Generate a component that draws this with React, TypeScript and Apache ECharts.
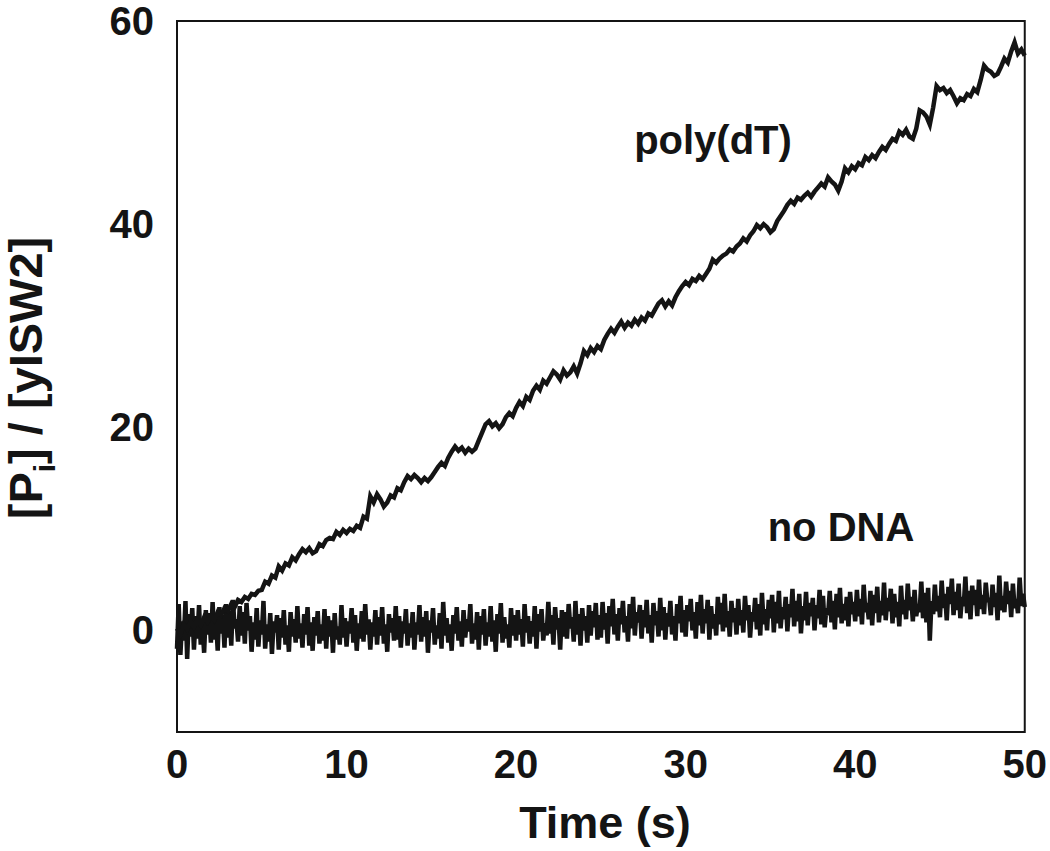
import React, { useEffect, useRef } from "react";
import * as echarts from "echarts";

// sampling steps of the two traces (s)
const polyStep = 0.2;
const noDnaStep = 0.1;

const xTicks = [0, 10, 20, 30, 40, 50];
const yTickLabels = [0, 20, 40, 60];

// [Pi]/[yISW2] with poly(dT), one value every 0.2 s
const polyDT = [
  0.2, -0.4, 0.6, 0.1, 0.9, 0.3, 1.0, 0.5, 1.3, 0.8,
  1.4, 1.0, 1.8, 1.5, 2.2, 1.9, 2.6, 2.3, 3.0, 2.8,
  3.3, 3.1, 3.6, 3.5, 3.9, 4.0, 4.8, 4.6, 5.4, 5.2,
  6.3, 5.9, 6.6, 6.4, 7.2, 6.9, 7.5, 8.0, 7.7, 8.1,
  7.6, 7.8, 8.5, 8.3, 8.9, 9.1, 9.0, 9.7, 9.4, 9.9,
  9.6, 10.0, 9.8, 10.3, 10.1, 11.2, 11.0, 13.2, 12.6, 13.4,
  12.9, 12.2, 12.6, 13.3, 13.1, 14.0, 13.8, 14.6, 15.2, 14.9,
  15.3, 15.0, 14.6, 15.0, 14.7, 15.1, 15.6, 16.1, 16.5, 16.2,
  17.0, 17.6, 18.1, 17.7, 18.0, 17.5, 17.9, 17.6, 17.9, 18.7,
  19.5, 20.3, 20.6, 20.1, 20.4, 19.9, 20.3, 21.0, 21.4, 21.1,
  21.9, 22.5, 22.1, 23.0, 22.7, 23.6, 24.1, 23.7, 24.6, 24.3,
  24.9, 25.5, 25.2, 24.7, 25.6, 25.1, 25.4, 26.0, 25.3, 26.3,
  27.5, 27.1, 27.8, 27.4, 28.0, 27.7, 28.6, 29.2, 29.7, 29.3,
  29.9, 30.4, 29.8, 30.3, 30.0, 30.6, 30.2, 30.8, 30.5, 31.2,
  31.0, 31.6, 32.2, 32.5, 31.9, 32.4, 32.0, 32.8, 33.4, 33.9,
  34.3, 34.0, 34.6, 34.4, 34.9, 34.6, 35.1, 35.6, 36.5, 36.2,
  36.6, 36.9, 37.1, 37.5, 37.3, 37.8, 38.1, 38.6, 38.3, 38.9,
  39.3, 39.9, 39.6, 40.0, 39.7, 39.2, 39.5, 40.3, 40.8, 41.3,
  41.9, 42.3, 42.0, 42.6, 42.4, 42.8, 43.1, 42.7, 43.2, 43.6,
  44.0, 43.7, 44.6, 44.2, 43.9, 43.3, 44.2, 45.5, 45.1, 45.7,
  45.4, 46.0, 45.8, 46.6, 46.3, 46.8, 46.5, 47.1, 47.6, 47.3,
  47.9, 48.4, 48.2, 49.1, 48.8, 49.3, 48.6, 48.4, 49.4, 51.2,
  51.0, 50.6, 49.8, 51.5, 53.6, 53.2, 53.4, 52.9, 53.2, 52.6,
  51.9, 52.4, 52.2, 52.8, 52.6, 53.3, 53.0, 54.2, 55.6, 55.2,
  55.0, 54.6, 54.8, 55.5, 56.3, 55.9, 57.0, 57.9, 56.8, 57.2,
  56.6,
];

// [Pi]/[yISW2] without DNA, one value every 0.1 s
const noDNA = [
  -1.8, 2.6, -2.4, 0.9, -1.0, 2.9, -2.8, 1.6, -0.6, 2.2,
  -1.9, 1.4, -0.8, 2.5, -1.4, 0.6, -2.2, 2.0, -0.4, 1.7,
  -1.2, 2.8, -0.9, 1.2, -2.0, 2.3, -0.3, 1.5, -1.7, 2.6,
  -0.7, 1.9, -1.5, 3.0, 0.2, 1.1, -1.1, 2.4, -0.5, 1.8,
  -1.3, 2.7, 0.0, 1.4, -2.1, 0.8, -0.9, 2.2, -1.6, 1.0,
  -0.4, 2.9, -1.8, 0.6, -1.1, 1.7, -2.3, 0.9, -0.2, 1.5,
  -1.9, 1.2, -0.7, 2.0, -1.4, 0.5, -2.1, 1.8, -0.6, 1.1,
  -1.2, 2.4, -0.8, 0.7, -1.7, 1.6, -0.4, 2.3, -1.5, 0.8,
  -2.0, 1.3, -0.5, 1.9, -1.3, 0.6, -1.0, 2.1, -1.8, 1.4,
  -0.6, 1.0, -2.2, 1.7, -0.9, 0.4, -1.4, 2.5, -0.7, 1.2,
  -1.6, 0.9, -0.3, 2.2, -1.2, 1.5, -2.0, 0.7, -0.8, 1.9,
  -1.1, 2.6, -0.4, 1.1, -1.9, 0.8, -0.6, 2.0, -1.4, 1.3,
  -0.5, 2.3, -1.3, 0.6, -2.1, 1.6, -0.2, 1.2, -1.0, 2.4,
  -0.9, 1.4, -1.7, 0.9, -0.3, 2.1, -1.5, 0.7, -0.7, 1.8,
  -1.9, 0.8, -0.4, 2.5, -1.1, 1.3, -0.6, 1.9, -2.2, 1.0,
  -0.2, 2.2, -1.4, 0.5, -0.8, 1.7, -1.8, 2.8, -0.5, 1.2,
  -1.2, 0.6, -2.0, 1.5, -0.3, 2.3, -1.0, 0.9, -1.6, 2.0,
  -0.7, 1.1, -0.1, 2.6, -1.3, 0.7, -0.9, 1.8, -1.9, 1.4,
  -0.4, 2.1, -1.5, 0.8, -0.6, 2.4, -1.1, 1.0, -2.1, 1.6,
  -0.3, 2.7, -1.2, 1.3, -0.8, 0.6, -1.7, 2.2, -0.5, 1.5,
  -1.0, 2.0, -0.4, 1.1, -1.6, 2.6, -0.2, 1.4, -1.3, 0.9,
  -0.6, 2.4, -1.8, 1.6, -0.1, 2.1, -1.0, 0.7, -0.5, 2.8,
  -0.3, 1.5, -1.4, 2.3, 0.1, 1.2, -1.9, 2.0, -0.6, 1.8,
  -0.8, 2.6, 0.2, 1.3, -1.1, 2.9, -0.4, 1.6, -1.5, 2.2,
  0.0, 1.4, -1.2, 2.5, -0.5, 1.9, 0.3, 2.7, -0.9, 1.5,
  -0.7, 2.8, 0.1, 1.7, -1.3, 2.4, 0.4, 3.1, -0.4, 1.6,
  -1.0, 2.2, 0.6, 2.9, -0.2, 1.4, -1.1, 2.6, 0.2, 3.3,
  -0.5, 1.8, 0.8, 2.5, -0.8, 2.0, 0.3, 3.0, -0.3, 1.5,
  -1.2, 2.7, 0.5, 1.9, -0.6, 3.2, 0.0, 2.3, -0.9, 1.7,
  0.4, 2.9, -0.4, 1.4, -1.0, 2.6, 0.7, 3.4, -0.2, 2.0,
  -0.6, 2.5, 0.9, 3.1, 0.0, 1.8, -0.8, 2.8, 0.5, 3.5,
  -0.3, 2.1, 0.7, 3.0, -0.9, 2.4, 0.2, 1.6, -0.5, 3.3,
  0.6, 2.7, -0.1, 3.6, 0.3, 1.9, -0.6, 2.9, 0.8, 2.2,
  -0.4, 3.1, 0.5, 2.0, -0.2, 3.4, 1.0, 2.5, -0.7, 1.8,
  0.9, 3.2, 0.1, 2.6, -0.5, 3.7, 0.6, 2.1, 0.0, 3.0,
  1.2, 3.5, -0.2, 2.8, 0.7, 3.9, 0.2, 2.3, 1.1, 3.3,
  -0.1, 2.6, 1.3, 4.1, 0.4, 2.9, 0.9, 3.6, -0.3, 2.4,
  1.0, 3.8, 0.5, 2.7, 1.4, 3.2, 0.0, 2.5, 1.2, 4.0,
  0.6, 3.4, 0.3, 2.2, 1.5, 3.9, 0.8, 2.9, 0.1, 3.6,
  1.3, 4.2, 0.7, 2.6, 1.0, 3.3, 0.4, 3.8, 1.6, 2.8,
  0.9, 4.0, 1.4, 3.1, 0.6, 4.5, 1.8, 2.7, 1.1, 3.9,
  0.5, 3.5, 1.7, 4.3, 0.8, 2.9, 1.5, 4.7, 1.0, 3.2,
  1.9, 4.1, 0.7, 3.6, 1.3, 2.8, 0.4, 4.4, 1.6, 3.0,
  1.1, 4.6, 2.0, 3.3, 0.9, 4.0, 1.4, 2.6, 1.8, 4.8,
  1.2, 3.7, 0.8, 4.2, -1.0, 2.9, 1.6, 4.5, 1.9, 3.4,
  1.3, 4.9, 2.2, 3.6, 1.0, 4.3, 2.6, 5.1, 1.5, 3.8,
  2.0, 4.6, 1.2, 3.3, 2.4, 5.3, 1.7, 3.9, 1.1, 4.4,
  2.5, 4.0, 1.4, 5.0, 2.1, 3.5, 1.6, 4.7, 2.8, 3.2,
  1.5, 4.5, 2.3, 3.7, 1.0, 5.4, 2.0, 3.4, 1.8, 4.8,
  2.6, 3.9, 1.3, 4.6, 2.2, 3.1, 1.7, 5.2, 2.4, 3.6,
  2.3,
];

const seriesNames = ["poly(dT)", "no DNA"];
const yTitleMain = "[P";
const yTitleSub = "i";
const yTitleRest = "] / [yISW2]";
const xTitle = "Time (s)";

const FONT = "'Liberation Sans', Arial, Helvetica, sans-serif";
const INK = "#141414";

export default function App() {
  const ref = useRef<HTMLDivElement>(null);

  useEffect(() => {
    document.body.style.margin = "0";
    if (!ref.current) return;
    const chart = echarts.init(ref.current, null, { renderer: "svg" });

    const toPairs = (arr: number[], step: number) =>
      arr.map((v, i) => [Number((i * step).toFixed(2)), v]);

    chart.setOption({
      animation: false,
      backgroundColor: "#ffffff",
      grid: {
        left: 177,
        right: 21,
        top: 21,
        bottom: 119,
        show: true,
        borderColor: INK,
        borderWidth: 2,
        backgroundColor: "transparent",
      },
      xAxis: {
        type: "value",
        min: xTicks[0],
        max: xTicks[xTicks.length - 1],
        interval: 10,
        axisLine: { show: false },
        axisTick: { show: false },
        splitLine: { show: false },
        axisLabel: {
          color: INK,
          fontFamily: FONT,
          fontWeight: "bold",
          fontSize: 40,
          margin: 12,
        },
      },
      yAxis: {
        type: "value",
        min: -10,
        max: 60,
        interval: 10,
        axisLine: { show: false },
        axisTick: { show: false },
        splitLine: { show: false },
        axisLabel: {
          color: INK,
          fontFamily: FONT,
          fontWeight: "bold",
          fontSize: 40,
          margin: 23,
          formatter: (v: number) => (yTickLabels.includes(v) ? String(v) : ""),
        },
      },
      series: [
        {
          name: seriesNames[1],
          type: "line",
          data: toPairs(noDNA, noDnaStep),
          showSymbol: false,
          symbol: "none",
          lineStyle: { color: INK, width: 4.5, join: "miter" },
          z: 2,
        },
        {
          name: seriesNames[0],
          type: "line",
          data: toPairs(polyDT, polyStep),
          showSymbol: false,
          symbol: "none",
          lineStyle: { color: INK, width: 4.5, join: "miter" },
          z: 3,
        },
      ],
      graphic: [
        {
          type: "text",
          x: 25,
          y: 378,
          rotation: Math.PI / 2,
          style: {
            text: `{a|${yTitleMain}}{s|${yTitleSub}}{a|${yTitleRest}}`,
            align: "center",
            verticalAlign: "middle",
            fill: INK,
            rich: {
              a: {
                fontFamily: FONT,
                fontWeight: "bold",
                fontSize: 47,
                lineHeight: 46,
                verticalAlign: "top",
                fill: INK,
              },
              s: {
                fontFamily: FONT,
                fontWeight: "bold",
                fontSize: 30,
                lineHeight: 30,
                padding: [27, 0, 0, 0],
                verticalAlign: "top",
                fill: INK,
              },
            },
          },
        },
        {
          type: "text",
          x: 605,
          y: 822,
          style: {
            text: xTitle,
            align: "center",
            verticalAlign: "middle",
            fill: INK,
            fontFamily: FONT,
            fontWeight: "bold",
            fontSize: 45,
          },
        },
        {
          type: "text",
          x: 713,
          y: 140,
          style: {
            text: seriesNames[0],
            align: "center",
            verticalAlign: "middle",
            fill: INK,
            fontFamily: FONT,
            fontWeight: "bold",
            fontSize: 40,
          },
        },
        {
          type: "text",
          x: 841,
          y: 527,
          style: {
            text: seriesNames[1],
            align: "center",
            verticalAlign: "middle",
            fill: INK,
            fontFamily: FONT,
            fontWeight: "bold",
            fontSize: 40,
          },
        },
      ],
    });

    return () => chart.dispose();
  }, []);

  return <div ref={ref} style={{ width: 1050, height: 851 }} />;
}
